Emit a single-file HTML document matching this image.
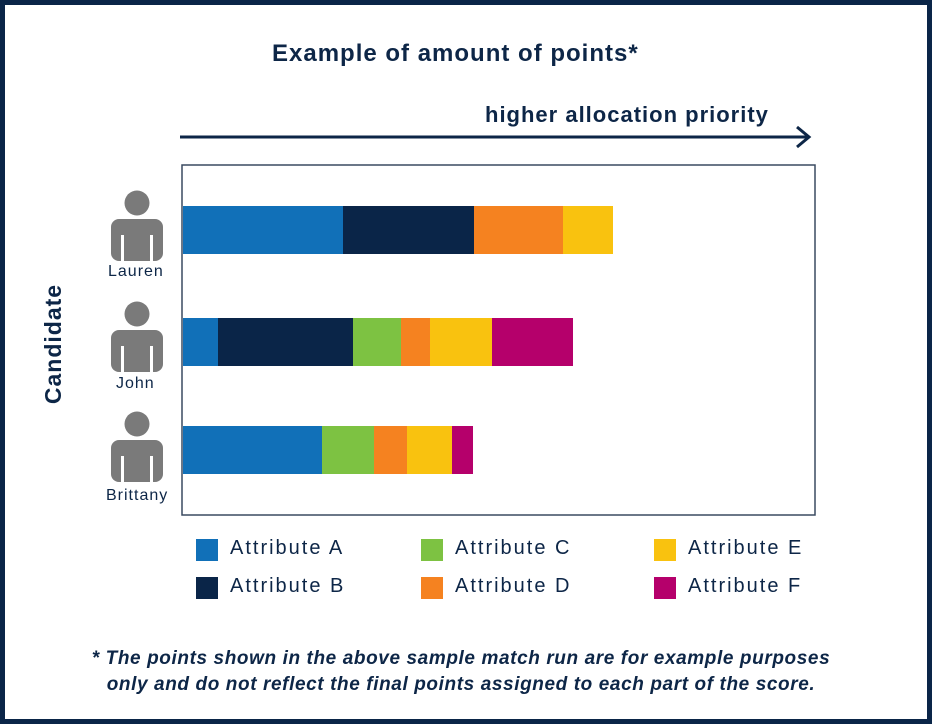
<!DOCTYPE html>
<html><head><style>
body{margin:0;width:932px;height:724px;background:#fff;font-family:"Liberation Sans",sans-serif;color:#0d2647;overflow:hidden}
.frame{position:absolute;left:0;top:0;width:922px;height:714px;border:5px solid #0a2548}
.t{position:absolute;white-space:nowrap}
.bar{position:absolute;height:48px}
.sw{position:absolute;width:22px;height:22px}
.lg{position:absolute;font-size:20px;letter-spacing:2px}
.nm{position:absolute;font-size:16px;letter-spacing:1px;white-space:nowrap}
</style></head><body>
<div class="frame"></div>
<div class="t" style="left:272px;top:40px;font-size:24px;font-weight:bold;letter-spacing:1px">Example of amount of points*</div>
<div class="t" style="left:485px;top:102px;font-size:22px;font-weight:bold;letter-spacing:1px">higher allocation priority</div>
<svg style="position:absolute;left:0;top:0" width="932" height="724">
<line x1="180" y1="137" x2="808" y2="137" stroke="#0d2647" stroke-width="3"/>
<polyline points="797,127 809,137 797,147" fill="none" stroke="#0d2647" stroke-width="3"/>
<rect x="182" y="165" width="633" height="350" fill="none" stroke="#3a4a60" stroke-width="1.5"/>
<g fill="#7a7a7a">
<circle cx="137" cy="203" r="12.5"/><rect x="111" y="219" width="52" height="42" rx="8"/>
<circle cx="137" cy="314" r="12.5"/><rect x="111" y="330" width="52" height="42" rx="8"/>
<circle cx="137" cy="424" r="12.5"/><rect x="111" y="440" width="52" height="42" rx="8"/>
</g>
<g fill="#fff"><rect x="121" y="235" width="3" height="27"/><rect x="150" y="235" width="3" height="27"/>
<rect x="121" y="346" width="3" height="27"/><rect x="150" y="346" width="3" height="27"/>
<rect x="121" y="456" width="3" height="27"/><rect x="150" y="456" width="3" height="27"/></g>
<text x="0" y="0" transform="translate(61,344) rotate(-90)" text-anchor="middle" font-family="Liberation Sans" font-weight="bold" font-size="23" letter-spacing="1" fill="#0d2647">Candidate</text>
</svg>
<div class="nm" style="left:108px;top:263px">Lauren</div>
<div class="nm" style="left:116px;top:375px">John</div>
<div class="nm" style="left:106px;top:487px">Brittany</div>
<div class="bar" style="top:206px;left:183px;width:160px;background:#1170b8"></div>
<div class="bar" style="top:206px;left:343px;width:131px;background:#0a2548"></div>
<div class="bar" style="top:206px;left:474px;width:89px;background:#f58220"></div>
<div class="bar" style="top:206px;left:563px;width:50px;background:#f9c20f"></div>
<div class="bar" style="top:318px;left:183px;width:35px;background:#1170b8"></div>
<div class="bar" style="top:318px;left:218px;width:135px;background:#0a2548"></div>
<div class="bar" style="top:318px;left:353px;width:48px;background:#7dc242"></div>
<div class="bar" style="top:318px;left:401px;width:29px;background:#f58220"></div>
<div class="bar" style="top:318px;left:430px;width:62px;background:#f9c20f"></div>
<div class="bar" style="top:318px;left:492px;width:81px;background:#b5006b"></div>
<div class="bar" style="top:426px;left:183px;width:139px;background:#1170b8"></div>
<div class="bar" style="top:426px;left:322px;width:52px;background:#7dc242"></div>
<div class="bar" style="top:426px;left:374px;width:33px;background:#f58220"></div>
<div class="bar" style="top:426px;left:407px;width:45px;background:#f9c20f"></div>
<div class="bar" style="top:426px;left:452px;width:21px;background:#b5006b"></div>
<div class="sw" style="left:196px;top:539px;background:#1170b8"></div><div class="lg" style="left:230px;top:537px">Attribute A</div>
<div class="sw" style="left:196px;top:577px;background:#0a2548"></div><div class="lg" style="left:230px;top:575px">Attribute B</div>
<div class="sw" style="left:421px;top:539px;background:#7dc242"></div><div class="lg" style="left:455px;top:537px">Attribute C</div>
<div class="sw" style="left:421px;top:577px;background:#f58220"></div><div class="lg" style="left:455px;top:575px">Attribute D</div>
<div class="sw" style="left:654px;top:539px;background:#f9c20f"></div><div class="lg" style="left:688px;top:537px">Attribute E</div>
<div class="sw" style="left:654px;top:577px;background:#b5006b"></div><div class="lg" style="left:688px;top:575px">Attribute F</div>
<div class="t" style="left:0;width:922px;text-align:center;top:646px;font-size:19px;font-style:italic;font-weight:bold;line-height:26px;letter-spacing:0.6px"><b>*</b> The points shown in the above sample match run are for example purposes<br>only and do not reflect the final points assigned to each part of the score.</div>
</body></html>
